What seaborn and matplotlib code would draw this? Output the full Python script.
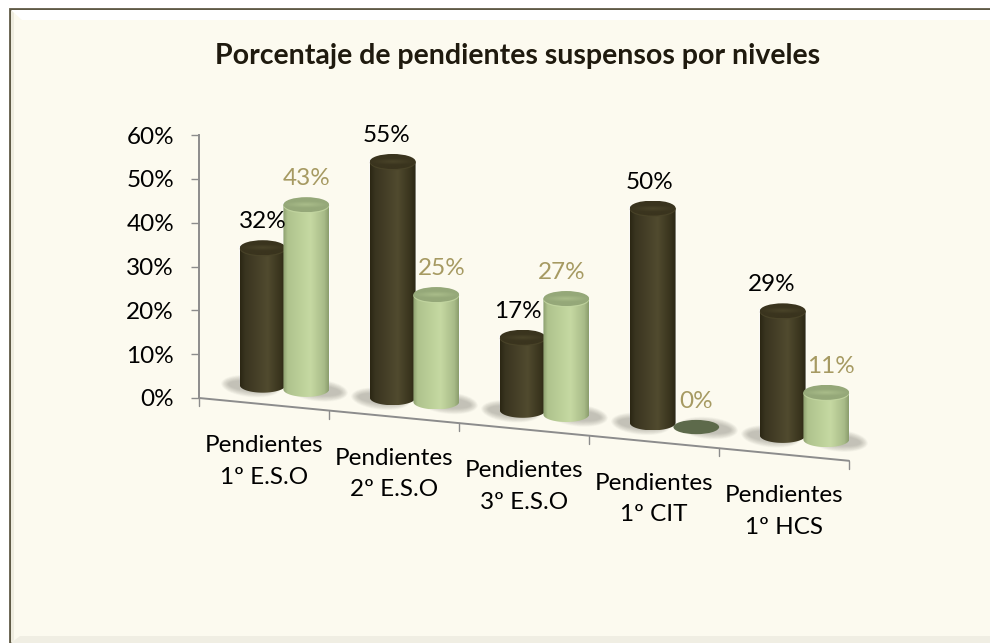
import matplotlib
matplotlib.use("Agg")
import matplotlib.pyplot as plt
from matplotlib.patches import Polygon, Ellipse, Rectangle
from matplotlib.transforms import Affine2D
from matplotlib.ticker import FuncFormatter
import numpy as np
import pandas as pd
import seaborn as sns

niveles = ["Pendientes\n1º E.S.O", "Pendientes\n2º E.S.O", "Pendientes\n3º E.S.O",
           "Pendientes\n1º CIT", "Pendientes\n1º HCS"]
serie_oscura = [32, 55, 17, 50, 29]
serie_clara = [43, 25, 27, 0, 11]
titulo = "Porcentaje de pendientes suspensos por niveles"

W, H = 990, 643
X0, Y0, X1, Y60 = 199, 398, 849, 135
SLOPE = 0.0966
BAR_SHIFT = (20.5, 17)
FS = 17.5

sns.set_theme(style="white")
plt.rcParams["font.family"] = ["Lato", "DejaVu Sans"]

df = pd.DataFrame({
    "nivel": niveles * 2,
    "valor": serie_oscura + serie_clara,
    "serie": ["a"] * 5 + ["b"] * 5,
})

fig = plt.figure(figsize=(W / 100, H / 100), dpi=100, facecolor="white")

# frame, in pixel coordinates
bg = fig.add_axes([0, 0, 1, 1], zorder=0)
bg.set_xlim(0, W)
bg.set_ylim(H, 0)
bg.axis("off")
bg.add_patch(Rectangle((9.5, 8.5), W, H, fc="#fcfaef", ec="#5f5a45", lw=2))
bg.add_patch(Polygon([(11, 10), (W, 10), (W, 20), (22, 20)], fc="white", ec="none"))
bg.add_patch(Polygon([(11, 10), (14, 13), (14, 640), (11, H)], fc="#eeecdf", ec="none"))
bg.add_patch(Polygon([(11, H), (20, 636), (W, 636), (W, H)], fc="#f0eee3", ec="none"))

ax = fig.add_axes([X0 / W, (H - Y0) / H, (X1 - X0) / W, (Y0 - Y60) / H], zorder=1)
ax.patch.set_alpha(0)
sns.barplot(data=df, x="nivel", y="valor", hue="serie", order=niveles,
            palette=["#443f26", "#b5c993"], width=0.67, gap=0, legend=False,
            saturation=1, ax=ax)
ax.set_xlim(-0.5, 4.5)
ax.set_ylim(0, 60)
ax.set_autoscale_on(False)
ax.set_xlabel("")
ax.set_ylabel("")
ax.set_yticks(range(0, 61, 10))
ax.yaxis.set_major_formatter(FuncFormatter(lambda v, _: f"{int(v)}%"))
ax.tick_params(axis="y", left=True, length=6, width=1, color="#8c8c8c", pad=12,
               labelsize=FS, labelcolor="black")
ax.tick_params(axis="x", bottom=False, labelbottom=False)
for s in ["top", "right", "bottom"]:
    ax.spines[s].set_visible(False)
ax.spines["left"].set_color("#8c8c8c")
ax.spines["left"].set_linewidth(1.4)

# floor shear of the fake 3d view, done in display space
shear = Affine2D(np.array([[1, 0, 0], [-SLOPE, 1, SLOPE * X0], [0, 0, 1]], dtype=float))
floor = ax.transData + shear
y_base = H - Y0
squash = Affine2D().translate(0, -y_base).scale(1, 0.98).translate(0, y_base)
bar_trans = ax.transData + squash + shear + Affine2D().translate(*BAR_SHIFT)

tick_len = 8 / ((Y0 - Y60) / 60)
ax.plot([-0.5, 4.5], [0, 0], transform=floor, color="#8c8c8c", lw=1.4, clip_on=False)
for b in np.arange(-0.5, 5):
    ax.plot([b, b], [0, -tick_len], transform=floor, color="#8c8c8c", lw=1, clip_on=False)

# top layer with the cylinders, in pixel coordinates
fx = fig.add_axes([0, 0, 1, 1], zorder=2)
fx.set_xlim(0, W)
fx.set_ylim(H, 0)
fx.axis("off")
fx.set_autoscale_on(False)


def to_px(trans, x, y):
    xd, yd = trans.transform((x, y))
    return xd, H - yd


def body_image(stops, cols):
    t = np.linspace(0, 1, 128)
    rgb = np.array([matplotlib.colors.to_rgb(c) for c in cols])
    return np.stack([np.interp(t, stops, rgb[:, i]) for i in range(3)], axis=1)[None, :, :]


def top_image(inner, outer):
    yy, xx = np.mgrid[-1:1:64j, -1:1:128j]
    r = np.clip(np.hypot(xx, yy * 2.2), 0, 1)[..., None]
    a = np.array(matplotlib.colors.to_rgb(inner))
    b = np.array(matplotlib.colors.to_rgb(outer))
    return a * (1 - r) + b * r


estilos = [
    {"stops": [0, 0.12, 0.6, 0.9, 1], "cols": ["#2b2714", "#3a3520", "#514b2f", "#37321c", "#2b2714"],
     "inner": "#4a4429", "outer": "#3a341e", "rim": "#4a4429"},
    {"stops": [0, 0.1, 0.6, 0.9, 1], "cols": ["#8b9d6d", "#afc38d", "#c6d9a2", "#a8bb88", "#8b9d6d"],
     "inner": "#aabd8a", "outer": "#95a879", "rim": "#c2d5a0"},
]
RY = 7.5

bars = []
for cont, est in zip(ax.containers, estilos):
    for patch in cont.patches:
        patch.set_transform(bar_trans)
        patch.set_clip_on(False)
        w = patch.get_width() * 1.05
        xc = patch.get_x() + patch.get_width() / 2
        patch.set_x(xc - w / 2)
        patch.set_width(w)
        bars.append((xc, w, patch.get_height(), est))

# soft shadows go first
for xc, w, h, est in bars:
    cx, cy = to_px(bar_trans, xc, 0)
    rx = (to_px(bar_trans, xc + w / 2, 0)[0] - cx)
    off = -12 if est is estilos[0] else 12
    for k in np.linspace(1, 0.45, 14):
        fx.add_patch(Ellipse((cx + off, cy + 1), 2 * rx * (0.7 + 0.6 * k), 22 * k, angle=5.5,
                             fc="#77776e", ec="none", alpha=0.035, zorder=1))

bars.sort(key=lambda b: b[0])
z = 2
for xc, w, h, est in bars:
    cx, cb = to_px(bar_trans, xc, 0)
    _, ct = to_px(bar_trans, xc, h)
    rx = to_px(bar_trans, xc + w / 2, 0)[0] - cx
    z += 1
    if h == 0:
        fx.add_patch(Ellipse((cx, cb), 2 * rx, 2 * RY * 0.95, fc="#5d6a4b", ec="none", zorder=z))
        continue
    th = np.linspace(np.pi, 0, 40)
    outline = np.column_stack([cx + rx * np.cos(th), cb + RY * np.sin(th)])
    outline = np.vstack([outline, [cx + rx, ct], [cx - rx, ct]])
    clip = Polygon(outline, closed=True, transform=fx.transData)
    im = fx.imshow(body_image(est["stops"], est["cols"]), aspect="auto", interpolation="bilinear",
                   extent=(cx - rx, cx + rx, cb + RY, ct), origin="upper", zorder=z)
    im.set_clip_path(clip)
    # lit rim just under the top face
    fx.add_patch(Ellipse((cx, ct + 1.2), 2 * rx, 2 * RY, fc=est["rim"], ec="none", alpha=0.9, zorder=z))
    top = Ellipse((cx, ct), 2 * rx, 2 * RY, transform=fx.transData)
    im2 = fx.imshow(top_image(est["inner"], est["outer"]), aspect="auto", interpolation="bilinear",
                    extent=(cx - rx, cx + rx, ct + RY, ct - RY), origin="upper", zorder=z)
    im2.set_clip_path(top)

fx.set_xlim(0, W)
fx.set_ylim(H, 0)

# data labels
label_dx = [0, 0, -6, 5, -5, -5, -3, 0, -11, 5]
for (xc, w, h, est), dx in zip(bars, label_dx):
    cx, ct = to_px(bar_trans, xc, h)
    color = "black" if est is estilos[0] else "#a69a62"
    fx.text(cx + dx, ct - 26, f"{int(round(h))}%", ha="center", va="center",
            fontsize=FS, color=color, zorder=30)

# category labels follow the sloped axis
for i, lab in enumerate(niveles):
    cx, cy = to_px(floor, i, 0)
    fx.text(cx, cy + 57, lab, ha="center", va="center", fontsize=FS, color="black",
            linespacing=1.62, zorder=30)

fx.text(518, 56, titulo, ha="center", va="center", fontsize=20.5, fontweight="bold",
        color="#1f1a0e", zorder=30)

fig.savefig("out.png", dpi=100)
